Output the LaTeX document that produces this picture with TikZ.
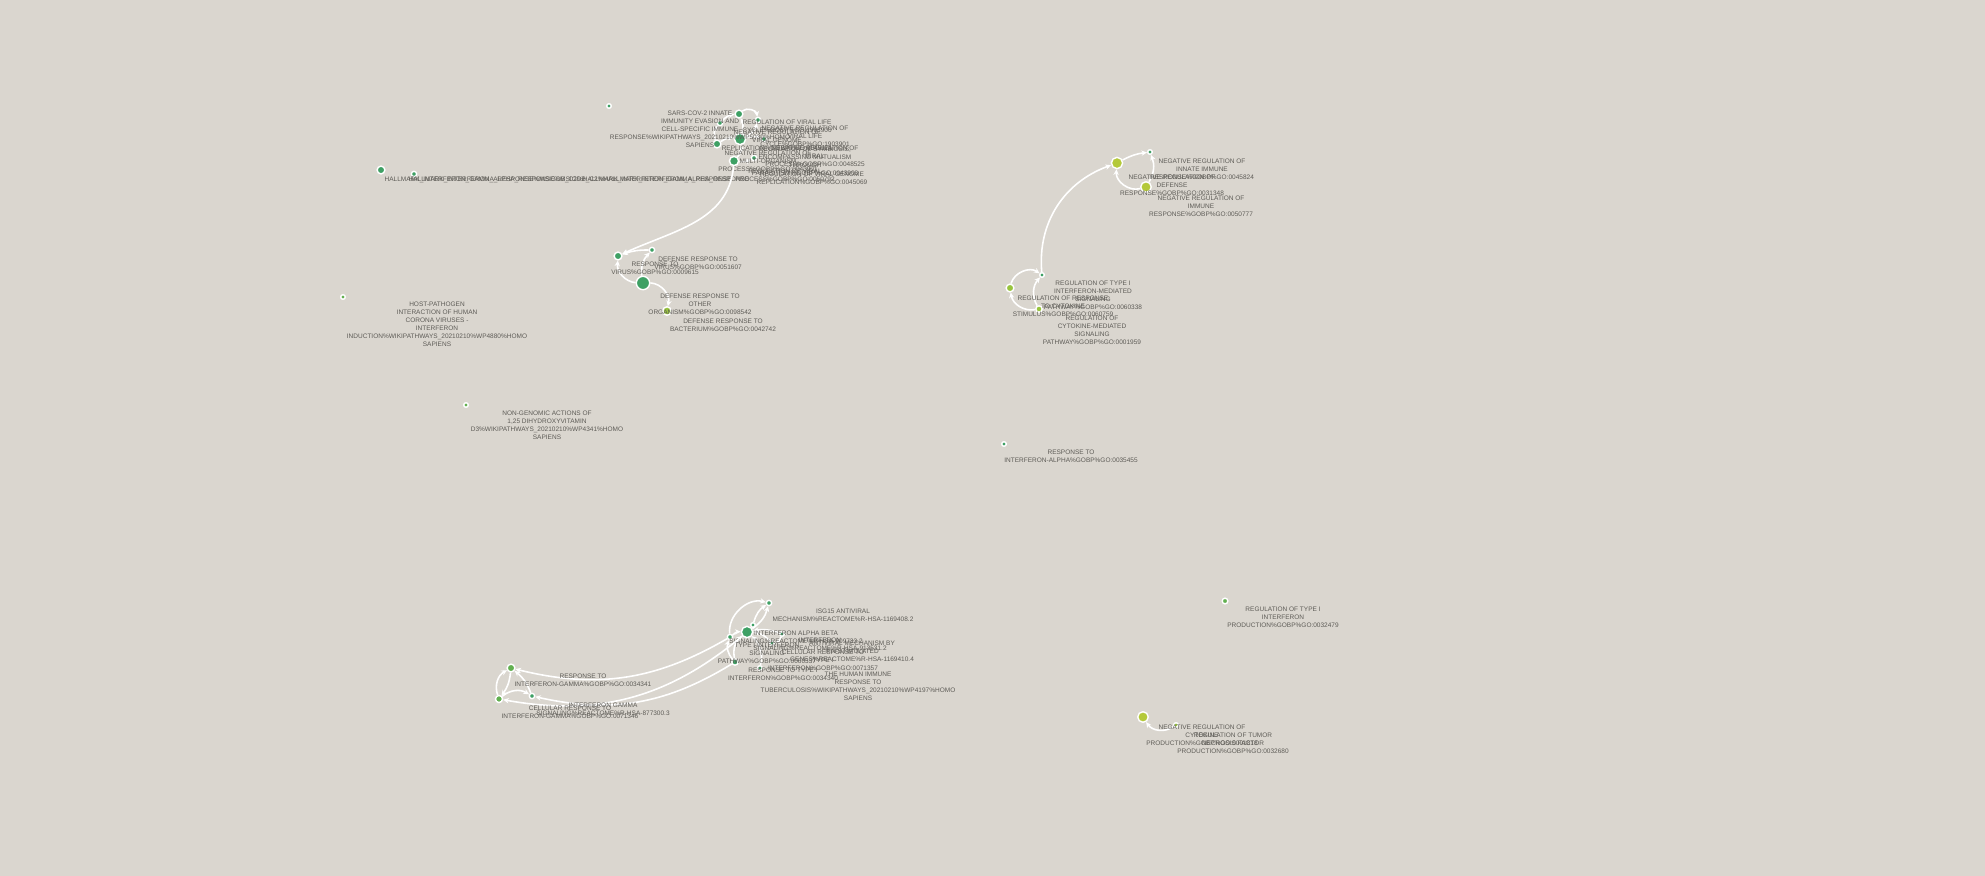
\documentclass[tikz,border=0pt]{standalone}
\usepackage{fontspec}
\setmainfont{Liberation Sans}
\usetikzlibrary{arrows.meta}
\definecolor{bgcol}{HTML}{DAD6CF}
\definecolor{setteal}{HTML}{3EA064}
\definecolor{setgreen}{HTML}{62B050}
\definecolor{setmid}{HTML}{98C43E}
\definecolor{setlime}{HTML}{B4C93A}
\definecolor{txtgray}{HTML}{5E5C57}
\tikzset{
  gset/.style={circle, draw=white, line width=0.4pt, inner sep=0pt, minimum size=#1},
  tset/.style={gset=#1, fill=setteal},
  gnset/.style={gset=#1, fill=setgreen},
  mset/.style={gset=#1, fill=setmid},
  lset/.style={gset=#1, fill=setlime},
  glbl/.style={align=center, anchor=north, inner sep=0pt, text=txtgray, font=\fontsize{1.85}{2.3}\selectfont},
  link/.style={draw=white, line width=0.45pt, -{Stealth[length=1.6pt,width=1.5pt]}},
}
\begin{document}
\begin{tikzpicture}[x=0.01cm, y=-0.01cm]
    \fill[bgcol] (0,0) rectangle (1985,876);
    \useasboundingbox (0,0) rectangle (1985,876);

    % top cluster %
    \node[tset=1.3pt] (lone) at (609,106) {};
    \node[tset=2.2pt] (sars) at (739,114) {};
    \node[tset=1.5pt] (vlife) at (758,120) {};
    \node[tset=1.5pt] (nvlife) at (720,123) {};
    \node[tset=3.2pt] (nvgen) at (740,139) {};
    \node[tset=1.5pt] (symb) at (764,139) {};
    \node[tset=2.2pt] (nvproc) at (717,144) {};
    \node[tset=2.6pt] (nmulti) at (734,161) {};
    \node[tset=1.5pt] (vgen) at (754,158) {};
    \draw[link] (sars) to[bend left=60] (vlife);
    \draw[link] (nvlife) to[bend left=20] (sars);
    \draw[link] (nvgen) to[bend right=20] (sars);
    \draw[link] (nvgen) to[bend left=15] (symb);
    \draw[link] (nvgen) to[bend right=25] (vlife);
    \draw[link] (nvproc) to[bend left=20] (nvgen);
    \draw[link] (nmulti) to[bend right=25] (nvgen);
    \draw[link] (nmulti) to[bend right=15] (vgen);
    \draw[link] (nvproc) to[bend left=30] (nvlife);
    \node[glbl] (lsars) at (700,110) {SARS-COV-2 INNATE\\IMMUNITY EVASION AND\\CELL-SPECIFIC IMMUNE\\RESPONSE\%WIKIPATHWAYS\_20210210\%WP5039\%HOMO\\SAPIENS};
    \node[glbl] (lvlife) at (787,119) {REGULATION OF VIRAL LIFE\\CYCLE\%GOBP\%GO:1903900};
    \node[glbl] (lnvlife) at (805,125) {NEGATIVE REGULATION OF\\VIRAL LIFE\\CYCLE\%GOBP\%GO:1903901};
    \node[glbl] (lnvgen) at (777,129) {NEGATIVE REGULATION OF\\VIRAL GENOME\\REPLICATION\%GOBP\%GO:0045071};
    \node[glbl] (lnvproc) at (815,145) {NEGATIVE REGULATION OF\\VIRAL\\PROCESS\%GOBP\%GO:0048525};
    \node[glbl] (lsymb) at (805,146) {REGULATION OF SYMBIOSIS,\\ENCOMPASSING MUTUALISM\\THROUGH\\PARASITISM\%GOBP\%GO:0043903};
    \node[glbl] (lnmulti) at (768,150) {NEGATIVE REGULATION OF\\MULTI-ORGANISM\\PROCESS\%GOBP\%GO:0043901};
    \node[glbl] (lvproc) at (785,168) {REGULATION OF VIRAL\\PROCESS\%GOBP\%GO:0050792};
    \node[glbl] (lvgen) at (812,171) {REGULATION OF VIRAL GENOME\\REPLICATION\%GOBP\%GO:0045069};

    % hallmark %
    \node[tset=2.2pt] (hgamma) at (381,170) {};
    \node[tset=1.5pt] (halpha) at (414,174) {};
    \node[glbl, anchor=west] (lhgamma) at (384,180) {HALLMARK\_INTERFERON\_GAMMA\_RESPONSE\%MSIGDB\_C2\%HALLMARK\_INTERFERON\_GAMMA\_RESPONSE};
    \node[glbl, anchor=west] (lhalpha) at (408,180) {HALLMARK\_INTERFERON\_ALPHA\_RESPONSE\%MSIGDB\_C2\%HALLMARK\_INTERFERON\_ALPHA\_RESPONSE};

    % defense cluster %
    \node[tset=2.2pt] (defvir) at (618,256) {};
    \node[tset=1.5pt] (respvir) at (652,250) {};
    \node[tset=3.8pt] (deforg) at (643,283) {};
    \node[mset=2.4pt] (defbac) at (667,311) {};
    \draw[link] (nmulti) to[out=-95,in=25] (defvir);
    \draw[link] (respvir) to[bend right=10] (defvir);
    \draw[link] (deforg) to[bend left=45] (defvir);
    \draw[link] (deforg) to[bend left=25] (respvir);
    \draw[link] (deforg) to[bend left=50] (defbac);
    \node[glbl] (ldefvir) at (698,256) {DEFENSE RESPONSE TO\\VIRUS\%GOBP\%GO:0051607};
    \node[glbl] (lrespvir) at (655,261) {RESPONSE TO\\VIRUS\%GOBP\%GO:0009615};
    \node[glbl] (ldeforg) at (700,293) {DEFENSE RESPONSE TO\\OTHER\\ORGANISM\%GOBP\%GO:0098542};
    \node[glbl] (ldefbac) at (723,318) {DEFENSE RESPONSE TO\\BACTERIUM\%GOBP\%GO:0042742};

    % single sets %
    \node[gnset=1.3pt] (hostpath) at (343,297) {};
    \node[gnset=1.3pt] (nongen) at (466,405) {};
    \node[tset=1.3pt] (respalpha) at (1004,444) {};
    \node[gnset=1.6pt] (regtype) at (1225,601) {};
    \node[glbl] (lhostpath) at (437,301) {HOST-PATHOGEN\\INTERACTION OF HUMAN\\CORONA VIRUSES -\\INTERFERON\\INDUCTION\%WIKIPATHWAYS\_20210210\%WP4880\%HOMO\\SAPIENS};
    \node[glbl] (lnongen) at (547,410) {NON-GENOMIC ACTIONS OF\\1,25 DIHYDROXYVITAMIN\\D3\%WIKIPATHWAYS\_20210210\%WP4341\%HOMO\\SAPIENS};
    \node[glbl] (lrespalpha) at (1071,449) {RESPONSE TO\\INTERFERON-ALPHA\%GOBP\%GO:0035455};
    \node[glbl] (lregtype) at (1283,606) {REGULATION OF TYPE I\\INTERFERON\\PRODUCTION\%GOBP\%GO:0032479};

    % negative regulation cluster %
    \node[lset=3.2pt] (ninnate) at (1117,163) {};
    \node[tset=1.3pt] (nimm) at (1150,152) {};
    \node[lset=3.0pt] (ndef) at (1146,187) {};
    \node[tset=1.3pt] (rtype) at (1042,275) {};
    \node[mset=2.2pt] (rcyt) at (1010,288) {};
    \node[mset=1.8pt] (rcytsig) at (1039,309) {};
    \draw[link] (ninnate) to[bend left=10] (nimm);
    \draw[link] (ndef) to[bend right=25] (nimm);
    \draw[link] (ndef) to[bend left=55] (ninnate);
    \draw[link] (rtype) to[out=95,in=200] (ninnate);
    \draw[link] (rcyt) to[bend left=55] (rtype);
    \draw[link] (rcytsig) to[bend left=35] (rtype);
    \draw[link] (rcytsig) to[bend left=45] (rcyt);
    \node[glbl] (lninnate) at (1202,158) {NEGATIVE REGULATION OF\\INNATE IMMUNE\\RESPONSE\%GOBP\%GO:0045824};
    \node[glbl] (lndef) at (1172,174) {NEGATIVE REGULATION OF\\DEFENSE\\RESPONSE\%GOBP\%GO:0031348};
    \node[glbl] (lnimm) at (1201,195) {NEGATIVE REGULATION OF\\IMMUNE\\RESPONSE\%GOBP\%GO:0050777};
    \node[glbl] (lrtype) at (1093,280) {REGULATION OF TYPE I\\INTERFERON-MEDIATED\\SIGNALING\\PATHWAY\%GOBP\%GO:0060338};
    \node[glbl] (lrcyt) at (1063,295) {REGULATION OF RESPONSE\\TO CYTOKINE\\STIMULUS\%GOBP\%GO:0060759};
    \node[glbl] (lrcytsig) at (1092,315) {REGULATION OF\\CYTOKINE-MEDIATED\\SIGNALING\\PATHWAY\%GOBP\%GO:0001959};

    % interferon cluster %
    \node[tset=1.5pt] (isg) at (769,603) {};
    \node[tset=3.2pt] (ifnab) at (747,632) {};
    \node[tset=1.3pt] (antivir) at (753,625) {};
    \node[tset=1.5pt] (ifnsig) at (730,637) {};
    \node[tset=1.3pt] (celltype) at (782,634) {};
    \node[tset=1.3pt] (typesig) at (772,643) {};
    \node[tset=1.8pt] (resptype) at (735,662) {};
    \node[tset=1.3pt] (tuber) at (760,668) {};
    \draw[link] (ifnsig) to[bend left=55] (isg);
    \draw[link] (ifnab) to[bend right=20] (isg);
    \draw[link] (antivir) to[bend left=20] (isg);
    \draw[link] (resptype) to[bend left=30] (ifnab);
    \draw[link] (tuber) to[bend right=30] (ifnab);
    \draw[link] (ifnsig) to[bend left=20] (ifnab);
    \draw[link] (typesig) to[bend right=20] (ifnab);
    \draw[link] (celltype) to[bend right=15] (ifnab);
    \draw[link] (resptype) to[bend left=30] (ifnsig);
    \draw[link] (celltype) to[bend left=30] (typesig);
    \node[glbl] (lisg) at (843,608) {ISG15 ANTIVIRAL\\MECHANISM\%REACTOME\%R-HSA-1169408.2};
    \node[glbl] (lifnab) at (796,630) {INTERFERON ALPHA BETA\\SIGNALING\%REACTOME\%R-HSA-909733.2};
    \node[glbl] (lantivir) at (852,640) {ANTIVIRAL MECHANISM BY\\IFN-STIMULATED\\GENES\%REACTOME\%R-HSA-1169410.4};
    \node[glbl] (lifnsig) at (820,637) {INTERFERON\\SIGNALING\%REACTOME\%R-HSA-913531.2};
    \node[glbl] (lcelltype) at (823,649) {CELLULAR RESPONSE TO\\TYPE I\\INTERFERON\%GOBP\%GO:0071357};
    \node[glbl] (ltypesig) at (767,642) {TYPE I INTERFERON\\SIGNALING\\PATHWAY\%GOBP\%GO:0060337};
    \node[glbl] (lresptype) at (783,667) {RESPONSE TO TYPE I\\INTERFERON\%GOBP\%GO:0034340};
    \node[glbl] (ltuber) at (858,671) {THE HUMAN IMMUNE\\RESPONSE TO\\TUBERCULOSIS\%WIKIPATHWAYS\_20210210\%WP4197\%HOMO\\SAPIENS};

    % interferon gamma cluster %
    \node[gnset=2.2pt] (respgam) at (511,668) {};
    \node[gnset=2.0pt] (cellgam) at (499,699) {};
    \node[tset=1.5pt] (siggam) at (532,696) {};
    \draw[link] (cellgam) to[bend left=40] (respgam);
    \draw[link] (respgam) to[bend left=15] (cellgam);
    \draw[link] (cellgam) to[bend left=35] (siggam);
    \draw[link] (siggam) to[bend right=15] (respgam);
    \draw[link] (ifnsig) to[bend left=22] (respgam);
    \draw[link] (ifnab) to[bend left=25] (cellgam);
    \draw[link] (resptype) to[bend left=22] (siggam);
    \node[glbl] (lrespgam) at (583,673) {RESPONSE TO\\INTERFERON-GAMMA\%GOBP\%GO:0034341};
    \node[glbl] (lsiggam) at (603,702) {INTERFERON GAMMA\\SIGNALING\%REACTOME\%R-HSA-877300.3};
    \node[glbl] (lcellgam) at (570,705) {CELLULAR RESPONSE TO\\INTERFERON-GAMMA\%GOBP\%GO:0071346};

    % cytokine production %
    \node[lset=3.0pt] (negcyt) at (1143,717) {};
    \node[mset=1.3pt] (tnf) at (1176,725) {};
    \draw[link] (tnf) to[bend left=45] (negcyt);
    \node[glbl] (lnegcyt) at (1202,724) {NEGATIVE REGULATION OF\\CYTOKINE\\PRODUCTION\%GOBP\%GO:0001818};
    \node[glbl] (ltnf) at (1233,732) {REGULATION OF TUMOR\\NECROSIS FACTOR\\PRODUCTION\%GOBP\%GO:0032680};
\end{tikzpicture}
\end{document}
